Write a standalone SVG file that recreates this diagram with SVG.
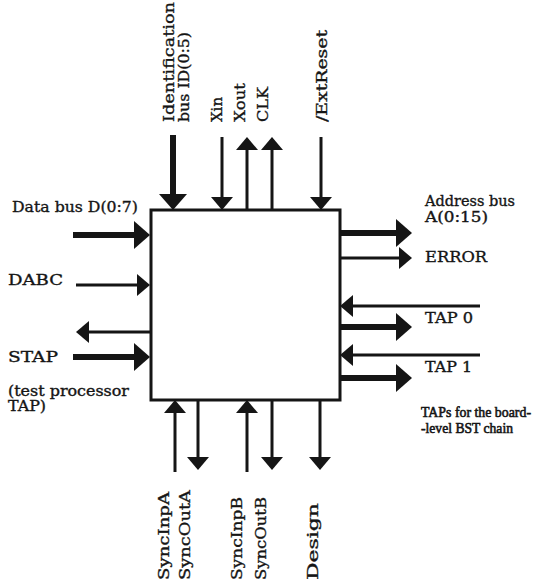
<svg xmlns="http://www.w3.org/2000/svg" width="537" height="581" viewBox="0 0 537 581">
<style>
text{font-family:"DejaVu Serif","Liberation Serif",serif;font-size:15px;fill:#151515;stroke:#151515;stroke-width:0.35}
.sm{font-size:14px}
.nar{font-family:"Liberation Serif","DejaVu Serif",serif;font-size:14.5px;stroke-width:0.6}
.thick{stroke:#151515;stroke-width:6;fill:none;marker-end:url(#big)}
.thin{stroke:#151515;stroke-width:3;fill:none;marker-end:url(#small)}
.box{fill:#fff;stroke:#151515;stroke-width:3}
</style>
<defs>
<marker id="big" viewBox="0 0 16 28" refX="0" refY="14" markerWidth="16" markerHeight="28" markerUnits="userSpaceOnUse" orient="auto"><path d="M0,0 L16,14 L0,28 Z" fill="#151515"/></marker>
<marker id="small" viewBox="0 0 13 22" refX="0" refY="11" markerWidth="13" markerHeight="22" markerUnits="userSpaceOnUse" orient="auto"><path d="M0,0 L13,11 L0,22 Z" fill="#151515"/></marker>
</defs>
<rect width="537" height="581" fill="#fff"/>
<g id="chip"><rect class="box" x="151" y="210" width="189" height="190"/></g>
<g id="connectors">
<line class="thick" x1="173" y1="135" x2="173" y2="194"/>
<line class="thin" x1="222" y1="137" x2="222" y2="197"/>
<line class="thin" x1="247" y1="210" x2="247" y2="150"/>
<line class="thin" x1="272" y1="210" x2="272" y2="150"/>
<line class="thin" x1="321" y1="137" x2="321" y2="197"/>
<line class="thick" x1="73" y1="235" x2="134" y2="235"/>
<line class="thin" x1="76" y1="285" x2="137" y2="285"/>
<line class="thin" x1="151" y1="332" x2="89" y2="332"/>
<line class="thick" x1="73" y1="357" x2="134" y2="357"/>
<line class="thick" x1="340" y1="233" x2="396" y2="233"/>
<line class="thin" x1="340" y1="258" x2="399" y2="258"/>
<line class="thin" x1="480" y1="306" x2="353" y2="306"/>
<line class="thick" x1="340" y1="327" x2="396" y2="327"/>
<line class="thin" x1="480" y1="355" x2="353" y2="355"/>
<line class="thick" x1="340" y1="378" x2="396" y2="378"/>
<line class="thin" x1="175" y1="472" x2="175" y2="413"/>
<line class="thin" x1="198" y1="400" x2="198" y2="457"/>
<line class="thin" x1="247" y1="472" x2="247" y2="413"/>
<line class="thin" x1="272" y1="400" x2="272" y2="457"/>
<line class="thin" x1="320" y1="400" x2="320" y2="457"/>
</g>
<g id="top-labels">
<text transform="translate(174,122) rotate(-90)" textLength="120" lengthAdjust="spacingAndGlyphs">Identification</text>
<text transform="translate(189,122) rotate(-90)" textLength="90" lengthAdjust="spacingAndGlyphs">bus ID(0:5)</text>
<text transform="translate(222,122) rotate(-90)" textLength="25" lengthAdjust="spacingAndGlyphs">Xin</text>
<text transform="translate(245,122) rotate(-90)" textLength="39" lengthAdjust="spacingAndGlyphs">Xout</text>
<text transform="translate(268,122) rotate(-90)" textLength="35" lengthAdjust="spacingAndGlyphs">CLK</text>
<text transform="translate(327,122) rotate(-90)" textLength="92" lengthAdjust="spacingAndGlyphs">/ExtReset</text>
</g>
<g id="left-labels">
<text x="12" y="212" textLength="126" lengthAdjust="spacingAndGlyphs">Data bus D(0:7)</text>
<text x="8" y="285" textLength="55" lengthAdjust="spacingAndGlyphs">DABC</text>
<text x="8" y="362" textLength="50" lengthAdjust="spacingAndGlyphs">STAP</text>
<text class="sm" x="8" y="396" textLength="121" lengthAdjust="spacingAndGlyphs">(test processor</text>
<text class="sm" x="8" y="411" textLength="38" lengthAdjust="spacingAndGlyphs">TAP)</text>
</g>
<g id="right-labels">
<text class="sm" x="425" y="206" textLength="90" lengthAdjust="spacingAndGlyphs">Address bus</text>
<text class="sm" x="425" y="222" textLength="63" lengthAdjust="spacingAndGlyphs">A(0:15)</text>
<text x="425" y="262" textLength="62" lengthAdjust="spacingAndGlyphs">ERROR</text>
<text x="425" y="323" textLength="48" lengthAdjust="spacingAndGlyphs">TAP 0</text>
<text x="425" y="372" textLength="47" lengthAdjust="spacingAndGlyphs">TAP 1</text>
<text class="nar" x="421" y="417" textLength="110" lengthAdjust="spacingAndGlyphs">TAPs for the board-</text>
<text class="nar" x="421" y="433" textLength="92" lengthAdjust="spacingAndGlyphs">-level BST chain</text>
</g>
<g id="bottom-labels">
<text transform="translate(169,580) rotate(-90)" textLength="88" lengthAdjust="spacingAndGlyphs">SyncInpA</text>
<text transform="translate(190,580) rotate(-90)" textLength="90" lengthAdjust="spacingAndGlyphs">SyncOutA</text>
<text transform="translate(242,580) rotate(-90)" textLength="83" lengthAdjust="spacingAndGlyphs">SyncInpB</text>
<text transform="translate(266,580) rotate(-90)" textLength="83" lengthAdjust="spacingAndGlyphs">SyncOutB</text>
<text transform="translate(318,580) rotate(-90)" textLength="77" lengthAdjust="spacingAndGlyphs">Design</text>
</g>
</svg>
